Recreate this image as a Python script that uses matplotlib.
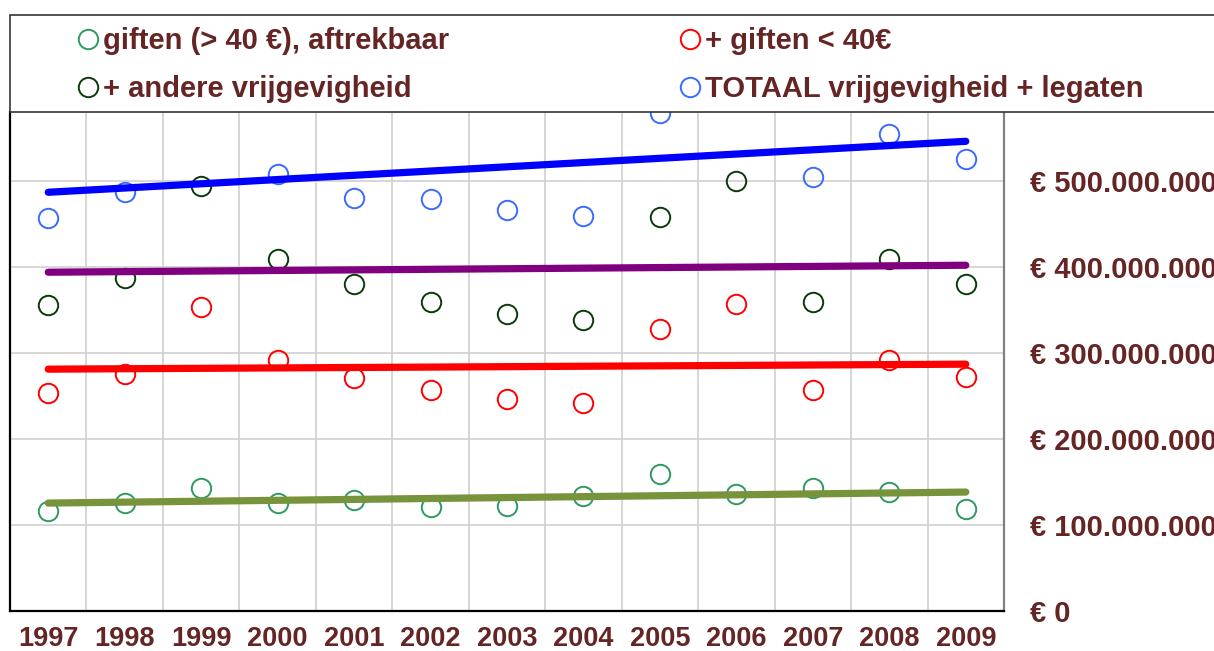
import matplotlib
matplotlib.use('Agg')
import matplotlib.pyplot as plt
from matplotlib.patches import Rectangle
from matplotlib.ticker import FuncFormatter

# Data (miljoen euro)
jaren = ['1997', '1998', '1999', '2000', '2001', '2002', '2003',
         '2004', '2005', '2006', '2007', '2008', '2009']
giften_aftrekbaar = [115.7, 125.0, 142.4, 125.0, 128.5, 120.3, 121.5,
                     133.0, 158.7, 135.5, 142.4, 137.8, 118.0]
giften_klein = [253.5, 275.6, 352.9, 291.3, 270.3, 256.4, 245.9,
                241.3, 327.3, 356.4, 256.4, 291.3, 271.5]
andere = [355.2, 386.6, 493.6, 408.7, 379.7, 358.7, 344.8,
          337.8, 457.6, 499.4, 358.7, 408.7, 379.7]
totaal = [456.4, 486.6, 600.0, 507.6, 479.7, 478.5, 465.7,
          458.7, 578.5, 610.0, 504.1, 554.1, 525.0]

# trendlijnen: waarde in 1997 en in 2009
trend_aftrekbaar = [125.0, 137.8]
trend_klein = [280.8, 286.6]
trend_andere = [393.6, 401.7]
trend_totaal = [486.6, 545.9]

tekst = '#652525'
plt.rcParams['font.family'] = ['Liberation Sans', 'DejaVu Sans']
plt.rcParams['font.weight'] = 'bold'

fig = plt.figure(figsize=(12.14, 6.51), dpi=100)
W, H = 1214.0, 651.0
ax = fig.add_axes([10 / W, (H - 610.5) / H, 994 / W, (610.5 - 112) / H])

x = list(range(len(jaren)))
mk = dict(marker='o', ls='none', ms=14, mew=1.4, mfc='none')
h1, = ax.plot(x, giften_aftrekbaar, mec='#2E9A60', label='giften (> 40 €), aftrekbaar', **mk)
h3, = ax.plot(x, giften_klein, mec='#FF0000', label='+ giften < 40€', **mk)
h2, = ax.plot(x, andere, mec='#0A3A0A', label='+ andere vrijgevigheid', **mk)
h4, = ax.plot(x, totaal, mec='#3A6BFF', label='TOTAAL vrijgevigheid + legaten', **mk)

lw = 5.2
ax.plot([x[0], x[-1]], trend_aftrekbaar, color='#77933C', lw=lw, solid_capstyle='round')
ax.plot([x[0], x[-1]], trend_klein, color='#FF0000', lw=lw, solid_capstyle='round')
ax.plot([x[0], x[-1]], trend_andere, color='#800080', lw=lw, solid_capstyle='round')
ax.plot([x[0], x[-1]], trend_totaal, color='#0000FF', lw=lw, solid_capstyle='round')

ax.set_xlim(-0.5, len(jaren) - 0.5)
ax.set_ylim(0, 580)
ax.set_xticks(x)
ax.set_xticklabels(jaren)
ax.set_xticks([i + 0.5 for i in x[:-1]], minor=True)
ax.set_yticks([0, 100, 200, 300, 400, 500])
ax.yaxis.set_major_formatter(FuncFormatter(
    lambda v, p: '€ 0' if v == 0 else '€ {:,.0f}'.format(v * 1e6).replace(',', '.')))
ax.yaxis.tick_right()
ax.tick_params(axis='y', length=0, pad=19, labelsize=21, labelcolor=tekst)
ax.tick_params(axis='x', which='both', length=0, pad=11, labelsize=19.5, labelcolor=tekst)
ax.grid(True, axis='y', color='#d0d0d0', lw=1.2)
ax.grid(True, axis='x', which='minor', color='#d0d0d0', lw=1.2)
ax.set_axisbelow(True)

ax.spines['top'].set_visible(False)
ax.spines['left'].set_color('black')
ax.spines['left'].set_linewidth(1.6)
ax.spines['bottom'].set_color('black')
ax.spines['bottom'].set_linewidth(1.6)
ax.spines['right'].set_color('#808080')
ax.spines['right'].set_linewidth(1.6)

# legendekader
fig.patches.append(Rectangle((10 / W, (H - 112) / H), 1.0, 97 / H, transform=fig.transFigure,
                             facecolor='white', edgecolor='#333333', lw=1.2, zorder=2))
lkw = dict(frameon=False, fontsize=21, labelcolor=tekst, handlelength=0.6,
           handletextpad=0.22, labelspacing=0.68, borderpad=0, borderaxespad=0,
           loc='center left')
leg1 = fig.legend(handles=[h1, h2], bbox_to_anchor=(79 / W, (H - 65) / H), **lkw)
leg2 = fig.legend(handles=[h3, h4], bbox_to_anchor=(681 / W, (H - 65) / H), **lkw)

fig.savefig('out.png', dpi=100)
